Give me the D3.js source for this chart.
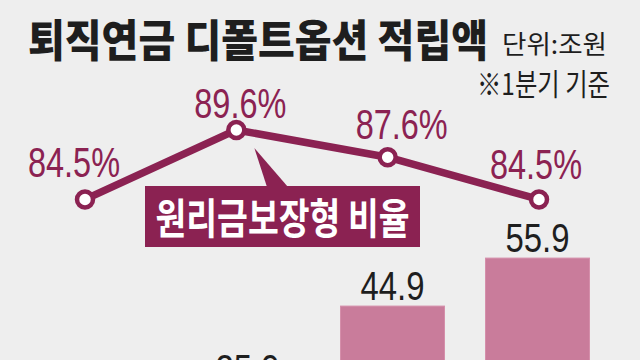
<!DOCTYPE html>
<html>
<head>
<meta charset="utf-8">
<script src="https://cdn.jsdelivr.net/npm/d3@7"></script>
<style>
  html, body { margin: 0; padding: 0; background: #eeeeee; }
  svg { display: block; }
</style>
</head>
<body>
<svg id="chart" width="640" height="360"></svg>
<script>
// ---- data ----
const categories = ["2022", "2023", "2024", "2025"];
const amounts = [14.5, 25.9, 44.9, 55.9];          // 적립액 (조원)
const ratios = [84.5, 89.6, 87.6, 84.5];            // 원리금보장형 비율 (%)
const ratioLabels = ["84.5%", "89.6%", "87.6%", "84.5%"];
const titleText = "퇴직연금 디폴트옵션 적립액";
const unitText = "단위:조원";
const noteText = "※1분기 기준";
const seriesLabel = "원리금보장형 비율";

// ---- style ----
const BG = "#eeeeee";
const LINE = "#8b2252";
const BAR = "#c97c9b";
const KFONT = "'Noto Sans CJK KR', 'Noto Sans', sans-serif";
const NFONT = "'Liberation Sans Narrow', 'Liberation Sans', Arial, sans-serif";

const svg = d3.select("#chart");
svg.append("rect").attr("width", 640).attr("height", 360).attr("fill", BG);

// scales
const x = d3.scaleBand().domain(categories).range([30, 610]).paddingInner(0.283).paddingOuter(0.1415);
const y = d3.scaleLinear().domain([0, 60]).range([502, 240.2]);
const xl = d3.scalePoint().domain(categories).range([85, 539]);
const yl = d3.scaleLinear().domain([80, 90]).range([260.8, 124.5]);

// bars
svg.append("g").selectAll("rect").data(amounts).join("rect")
  .attr("x", (d, i) => x(categories[i]))
  .attr("y", d => y(d))
  .attr("width", x.bandwidth())
  .attr("height", d => y(0) - y(d))
  .attr("fill", BAR)
  .attr("stroke", "#d58fab")
  .attr("stroke-width", 1);

// bar value labels
svg.append("g").selectAll("text").data(amounts).join("text")
  .attr("x", (d, i) => x(categories[i]) + x.bandwidth() / 2)
  .attr("y", d => y(d) - 6)
  .attr("text-anchor", "middle")
  .attr("font-family", NFONT)
  .attr("font-size", 40)
  .attr("fill", "#1e1e1e")
  .attr("textLength", 64)
  .attr("lengthAdjust", "spacingAndGlyphs")
  .text(d => d.toFixed(1));

// series callout box with pointer
const boxX = 145, boxY = 186, boxW = 275, boxH = 61;
svg.append("path")
  .attr("d", `M${boxX + 122},${boxY + 1} L${xl(categories[1]) + 18},${yl(ratios[1]) + 18} L${boxX + 143},${boxY + 1} Z`)
  .attr("fill", LINE);
svg.append("rect")
  .attr("x", boxX).attr("y", boxY).attr("width", boxW).attr("height", boxH)
  .attr("fill", LINE);
svg.append("text")
  .attr("x", boxX + boxW / 2).attr("y", boxY + 48)
  .attr("text-anchor", "middle")
  .attr("font-family", KFONT)
  .attr("font-weight", 700)
  .attr("font-size", 42)
  .attr("fill", "#ffffff")
  .attr("textLength", 254)
  .attr("lengthAdjust", "spacingAndGlyphs")
  .text(seriesLabel);

// line
const line = d3.line().x((d, i) => xl(categories[i])).y(d => yl(d));
svg.append("path").datum(ratios)
  .attr("d", line)
  .attr("fill", "none")
  .attr("stroke", LINE)
  .attr("stroke-width", 7.5)
  .attr("stroke-linejoin", "round");

svg.append("g").selectAll("circle").data(ratios).join("circle")
  .attr("cx", (d, i) => xl(categories[i]))
  .attr("cy", d => yl(d))
  .attr("r", 8)
  .attr("fill", "#ffffff")
  .attr("stroke", LINE)
  .attr("stroke-width", 4.5);

// ratio labels
const labelDx = [-11, 4, 14, -3];
const labelDy = [-22, -12, -18, -20];
svg.append("g").selectAll("text").data(ratios).join("text")
  .attr("x", (d, i) => xl(categories[i]) + labelDx[i])
  .attr("y", (d, i) => yl(d) + labelDy[i])
  .attr("text-anchor", "middle")
  .attr("font-family", NFONT)
  .attr("font-size", 43)
  .attr("fill", LINE)
  .attr("textLength", 92)
  .attr("lengthAdjust", "spacingAndGlyphs")
  .text((d, i) => ratioLabels[i]);

// title & notes
svg.append("text")
  .attr("x", 28).attr("y", 57)
  .attr("font-family", KFONT)
  .attr("font-weight", 900)
  .attr("font-size", 44)
  .attr("fill", "#1e1e1e")
  .attr("textLength", 460)
  .attr("lengthAdjust", "spacingAndGlyphs")
  .text(titleText);

svg.append("text")
  .attr("x", 502).attr("y", 54)
  .attr("font-family", KFONT)
  .attr("font-size", 26)
  .attr("fill", "#1e1e1e")
  .attr("textLength", 105)
  .attr("lengthAdjust", "spacingAndGlyphs")
  .text(unitText);

svg.append("text")
  .attr("x", 477).attr("y", 95)
  .attr("font-family", KFONT)
  .attr("font-size", 30)
  .attr("fill", "#1e1e1e")
  .attr("textLength", 133)
  .attr("lengthAdjust", "spacingAndGlyphs")
  .text(noteText);
</script>
</body>
</html>
